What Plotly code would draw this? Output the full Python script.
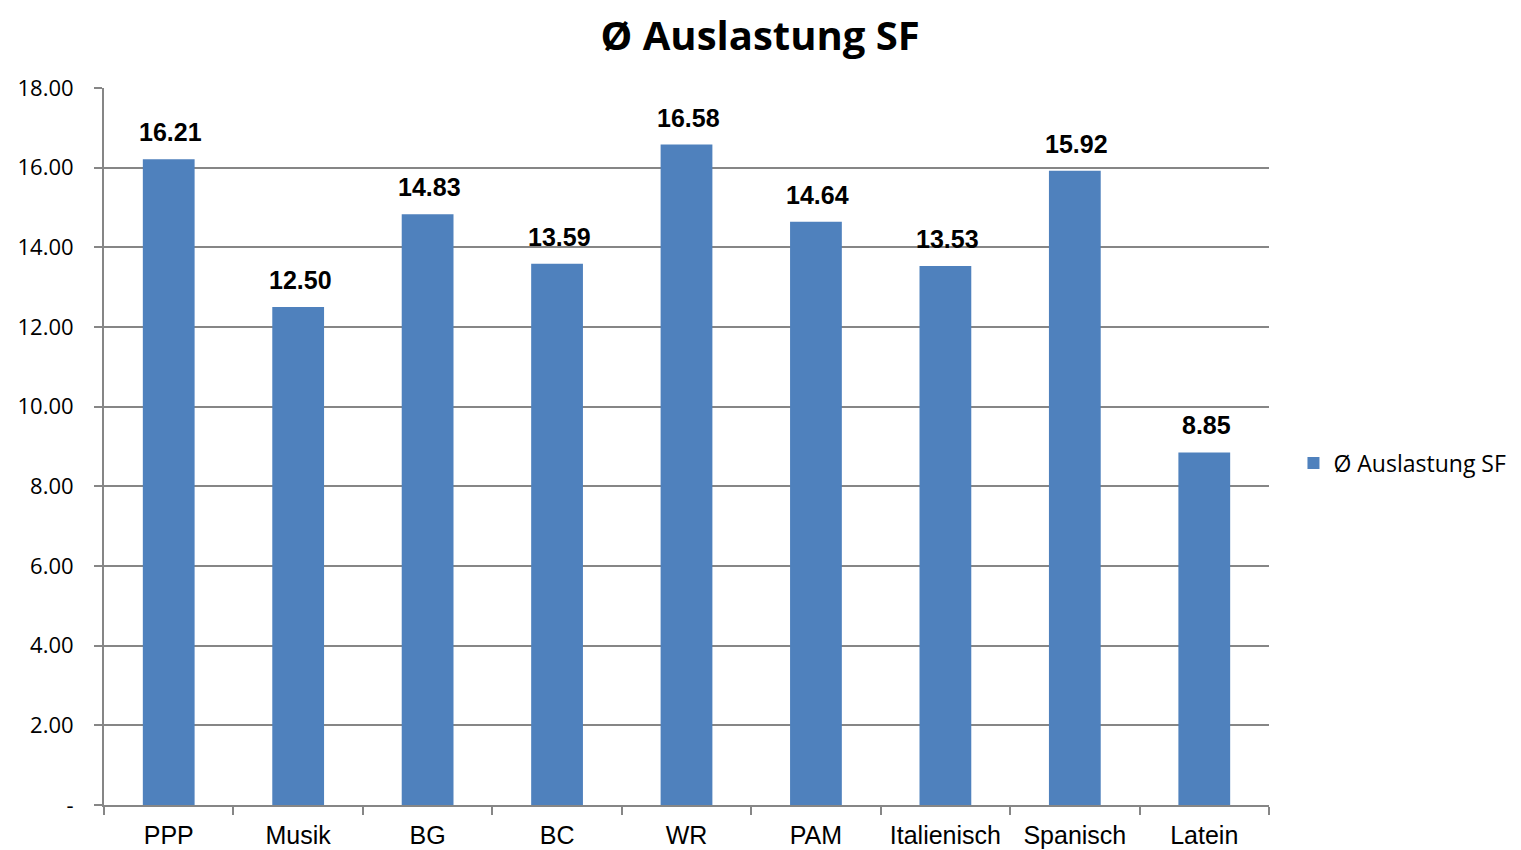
import plotly.graph_objects as go

categories = ["PPP", "Musik", "BG", "BC", "WR", "PAM", "Italienisch", "Spanisch", "Latein"]
values = [16.21, 12.50, 14.83, 13.59, 16.58, 14.64, 13.53, 15.92, 8.85]
y_ticks = [0, 2, 4, 6, 8, 10, 12, 14, 16, 18]
y_ticktext = ["-", "2.00", "4.00", "6.00", "8.00", "10.00", "12.00", "14.00", "16.00", "18.00"]
series_name = "Ø Auslastung SF"

fig = go.Figure()
fig.add_trace(go.Bar(
    x=categories, y=values, name=series_name,
    marker=dict(color="#4F81BD", line=dict(width=0)),
    showlegend=True,
))

for c, v in zip(categories, values):
    fig.add_annotation(
        x=c, y=v, text=f"<b>{v:.2f}</b>", showarrow=False,
        yanchor="bottom", xanchor="center", yshift=11, xshift=2,
        font=dict(family="Liberation Sans, Arial", size=25, color="black"),
    )

fig.update_layout(
    width=1521, height=850,
    paper_bgcolor="white", plot_bgcolor="white",
    margin=dict(l=96, r=260, t=80, b=53),
    bargap=0.6,
    title=dict(text="<b>Ø Auslastung SF</b>", x=0.4945, xanchor="center", y=0.967, yanchor="middle",
               xref="container", yref="container",
               font=dict(family="Open Sans, Noto Sans", size=40, color="black")),
    legend=dict(x=1.021, y=0.477, xanchor="left", yanchor="middle",
                font=dict(family="Open Sans, Noto Sans", size=23, color="black")),
    xaxis=dict(
        showline=True, linecolor="#868686", linewidth=2,
        ticks="outside", tickson="boundaries", ticklen=8, tickcolor="#868686", tickwidth=2,
        tickfont=dict(family="Liberation Sans, Arial", size=25, color="black"),
        ticklabelstandoff=7, automargin=False,
        showgrid=False,
    ),
    yaxis=dict(
        range=[0, 18], tickvals=y_ticks, ticktext=y_ticktext,
        showline=True, linecolor="#868686", linewidth=2,
        ticks="outside", ticklen=8, tickcolor="#868686", tickwidth=2,
        showgrid=True, gridcolor="#868686", gridwidth=1.5,
        tickfont=dict(family="Open Sans, Noto Sans", size=22, color="black"),
        ticklabelstandoff=16, automargin=False,
        zeroline=False,
    ),
)

fig.write_html("out.html")
